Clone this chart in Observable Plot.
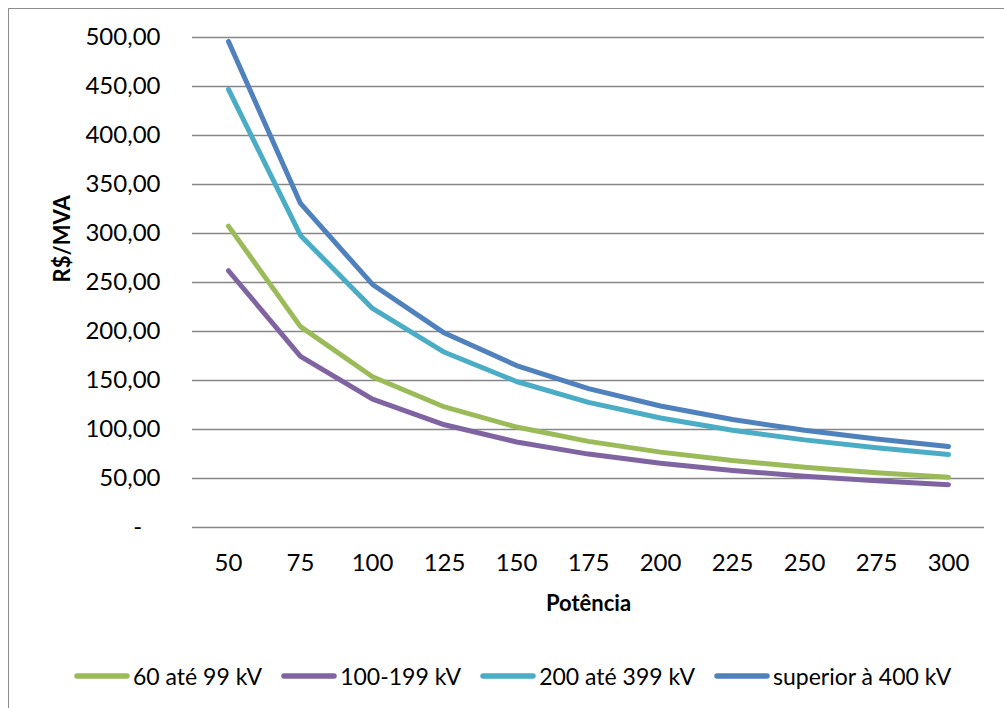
<!DOCTYPE html>
<html>
<head>
<meta charset="utf-8">
<script src="https://cdn.jsdelivr.net/npm/d3@7"></script>
<script src="https://cdn.jsdelivr.net/npm/@observablehq/plot@0.6"></script>
<style>
  html, body { margin: 0; padding: 0; background: #fff; overflow: hidden; width: 1004px; height: 708px; }
  #frame { position: absolute; left: 8px; top: 8px; width: 1100px; height: 800px; border: 1.5px solid #8c8c8c; box-sizing: border-box; }
  #chart { position: absolute; left: 0; top: 0; }
  #legend { position: absolute; left: 74px; top: 662px; display: flex; align-items: center; font-family: Lato, sans-serif; font-size: 23px; color: #000; white-space: nowrap; }
  .item { display: flex; align-items: center; margin-right: 19px; }
  .item svg { margin-right: 3px; }
</style>
</head>
<body>
<div id="frame"></div>
<div id="chart"></div>
<div id="legend"></div>
<script>
const potencia = [50, 75, 100, 125, 150, 175, 200, 225, 250, 275, 300];
const serie60 = [307.5, 205.0, 153.8, 123.0, 102.5, 87.9, 76.9, 68.3, 61.5, 55.9, 51.3];
const serie100 = [262.0, 174.7, 131.0, 104.8, 87.3, 74.9, 65.5, 58.2, 52.4, 47.6, 43.7];
const serie200 = [447.0, 298.0, 223.5, 178.8, 149.0, 127.7, 111.8, 99.3, 89.4, 81.3, 74.5];
const serie400 = [496.0, 330.7, 248.0, 198.4, 165.3, 141.7, 124.0, 110.2, 99.2, 90.2, 82.7];
const seriesNames = ["60 até 99 kV", "100-199 kV", "200 até 399 kV", "superior à 400 kV"];
const seriesColors = ["#9BBB59", "#8064A2", "#4BACC6", "#4F81BD"];
const yTicks = [0, 50, 100, 150, 200, 250, 300, 350, 400, 450, 500];
const xTitle = "Potência";
const yTitle = "R$/MVA";

const seriesValues = [serie60, serie100, serie200, serie400];
const data = [];
seriesValues.forEach((vals, i) => {
  vals.forEach((v, j) => data.push({serie: seriesNames[i], potencia: potencia[j], valor: v}));
});

const fmt = d => d === 0 ? "-\u00a0\u00a0\u00a0" : d.toFixed(2).replace(".", ",");

const chart = Plot.plot({
  width: 1004,
  height: 640,
  marginLeft: 192,
  marginRight: 20,
  marginTop: 37,
  marginBottom: 113,
  style: {fontFamily: "Lato, sans-serif", fontSize: "24px", color: "#000", background: "transparent"},
  x: {type: "point", domain: potencia, padding: 0.5},
  y: {domain: [0, 500]},
  color: {domain: seriesNames, range: seriesColors},
  marks: [
    Plot.ruleY(yTicks, {stroke: "#868686", strokeWidth: 1.6}),
    Plot.axisY(yTicks, {tickSize: 0, tickPadding: 32, tickFormat: fmt, label: null, fill: "#000", fontSize: 24}),
    Plot.axisX(potencia, {tickSize: 0, tickPadding: 26, label: null, fill: "#000", fontSize: 24}),
    Plot.line(data, {x: "potencia", y: "valor", z: "serie", stroke: "serie", strokeWidth: 5, strokeLinejoin: "round", strokeLinecap: "round"}),
    Plot.text([xTitle], {frameAnchor: "bottom", dy: 76, text: d => d, fontWeight: "bold", fontSize: 22, lineAnchor: "middle"}),
    Plot.text([yTitle], {frameAnchor: "left", dx: -130, text: d => d, rotate: -90, fontWeight: "bold", fontSize: 22, lineAnchor: "middle"})
  ]
});
document.getElementById("chart").appendChild(chart);

const legend = document.getElementById("legend");
seriesNames.forEach((name, i) => {
  const item = document.createElement("div");
  item.className = "item";
  item.innerHTML = `<svg width="56" height="10"><line x1="3" y1="5" x2="53" y2="5" stroke="${seriesColors[i]}" stroke-width="5.5" stroke-linecap="round"/></svg><span>${name}</span>`;
  legend.appendChild(item);
});
</script>
</body>
</html>
